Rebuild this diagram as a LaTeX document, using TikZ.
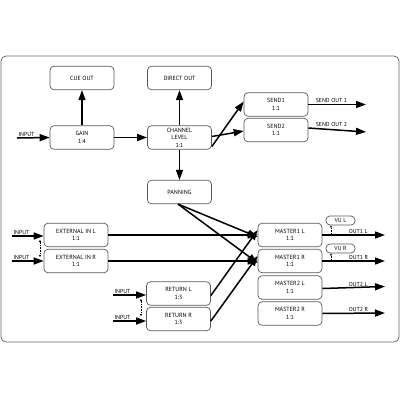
\documentclass[tikz,border=0pt]{standalone}
\usepackage{fontspec}
\setmainfont{PT Sans}
\usetikzlibrary{arrows.meta}
\begin{document}
\begin{tikzpicture}[x=1pt,y=-1pt,
  box/.style={draw=black!65,line width=0.7pt,rounded corners=4pt,fill=white,
    minimum width=64pt,minimum height=23.5pt,inner sep=0pt,align=center,
    font=\fontsize{6}{7.5}\selectfont},
  vubox/.style={draw=black!65,line width=0.7pt,rounded corners=4pt,
    minimum width=29pt,minimum height=9pt,inner sep=0pt,font=\fontsize{5.8}{6}\selectfont},
  conn/.style={line width=1.5pt,-{Triangle[length=10pt,width=7pt]}},
  lbl/.style={font=\fontsize{5.8}{6}\selectfont,inner sep=0.8pt,anchor=south west},
  dots/.style={line width=0.6pt,densely dotted,{Triangle[length=2pt,width=2pt]}-{Triangle[length=2pt,width=2pt]}}
]
\useasboundingbox (0,0) rectangle (400,400);
\draw[black!60,line width=0.8pt,rounded corners=5pt] (1,56) rectangle (399,342);

\node[box] (cue) at (82,78) {CUE OUT};
\node[box] (direct) at (179.5,78) {DIRECT OUT};
\node[box] (gain) at (82,137.5) {GAIN\\1:4};
\node[box] (chan) at (179.5,137.5) {CHANNEL\\LEVEL\\1:1};
\node[box] (send1) at (276,104.5) {SEND1\\1:1};
\node[box] (send2) at (276,130) {SEND2\\1:1};
\node[box] (pan) at (179.5,192) {PANNING};
\node[box] (extL) at (76,235) {EXTERNAL IN L\\1:1};
\node[box] (extR) at (76,261) {EXTERNAL IN R\\1:1};
\node[box] (m1L) at (290,235) {MASTER1 L\\1:1};
\node[box] (m1R) at (290,261) {MASTER1 R\\1:1};
\node[box] (m2L) at (290,287.5) {MASTER2 L\\1:1};
\node[box] (m2R) at (290,313.5) {MASTER2 R\\1:1};
\node[box] (retL) at (178.5,293.5) {RETURN L\\1:3};
\node[box] (retR) at (178.5,319) {RETURN R\\1:3};
\node[vubox] (vuL) at (340.5,220.5) {VU L};
\node[vubox] (vuR) at (340.5,248.5) {VU R};

% inputs
\coordinate (inG) at (17,138);
\coordinate (inEL) at (12,236);
\coordinate (inER) at (12,261);
\coordinate (inRL) at (113,295);
\coordinate (inRR) at (113,321);
\draw[conn] (inG) -- (gain.west) node[lbl,pos=0] (tG) {INPUT};
\draw[conn] (inEL) -- (inEL -| extL.west) node[lbl,pos=0] (tEL) {INPUT};
\draw[conn] (inER) -- (inER -| extR.west) node[lbl,pos=0] (tER) {INPUT};
\draw[conn] (inRL) -- (inRL -| retL.west) node[lbl,pos=0] (tRL) {INPUT};
\draw[conn] (inRR) -- (inRR -| retR.west) node[lbl,pos=0] (tRR) {INPUT};
\coordinate (dEa) at (40,240);
\coordinate (dEb) at (40,257);
\coordinate (dRa) at (141,299);
\coordinate (dRb) at (141,316);
\draw[dots] (dEa) -- (dEb);
\draw[dots] (dRa) -- (dRb);

% main chain
\draw[conn] (gain.north) -- (cue.south);
\draw[conn] (gain.east) -- (chan.west);
\draw[conn] (chan.north) -- (direct.south);
\draw[conn] (chan.south) -- (pan.north);
\draw[conn] ([yshift=-9pt]chan.east) -- ([yshift=3pt]send1.west);
\draw[conn] ([yshift=1pt]chan.east) -- ([yshift=-1pt]send2.west);

% sends out
\coordinate (so1) at (366,104.5);
\coordinate (so2) at (366,132);
\draw[conn] (send1.east) -- (so1) node[lbl,pos=0,xshift=6pt] (tS1) {SEND OUT 1};
\draw[conn] ([yshift=2pt]send2.east) -- (so2) node[lbl,pos=0,xshift=6pt] (tS2) {SEND OUT 2};

% into masters
\draw[conn] (extL.east) -- (m1L.west);
\draw[conn] (extR.east) -- (m1R.west);
\draw[conn] ([xshift=-1.5pt]pan.south) -- ([yshift=-2pt]m1L.west);
\draw[conn] ([xshift=-1.5pt]pan.south) -- ([yshift=-2pt]m1R.west);
\draw[conn] ([yshift=-2pt]retL.east) -- ([yshift=5pt]m1L.west);
\draw[conn] ([yshift=-2pt]retR.east) -- ([yshift=5pt]m1R.west);

% outputs
\coordinate (o1L) at (385,235);
\coordinate (o1R) at (385,261);
\coordinate (o2L) at (385,286.5);
\coordinate (o2R) at (385,313);
\draw[conn] (m1L.east) -- (o1L) node[lbl,pos=0,xshift=25pt] (t1L) {OUT1 L};
\draw[conn] (m1R.east) -- (o1R) node[lbl,pos=0,xshift=25pt] (t1R) {OUT1 R};
\draw[conn] ([yshift=-1pt]m2L.east) -- (o2L) node[lbl,pos=0,xshift=25pt] (t2L) {OUT2 L};
\draw[conn] (m2R.east) -- (o2R) node[lbl,pos=0,xshift=25pt] (t2R) {OUT2 R};

% VU taps
\coordinate (vtL) at (331,235);
\coordinate (vtR) at (331,261);
\draw[line width=0.6pt,densely dotted,-{Triangle[length=2pt,width=2pt]}] (vtL) -- (vtL |- vuL.south);
\draw[line width=0.6pt,densely dotted,-{Triangle[length=2pt,width=2pt]}] (vtR) -- (vtR |- vuR.south);
\end{tikzpicture}
\end{document}
